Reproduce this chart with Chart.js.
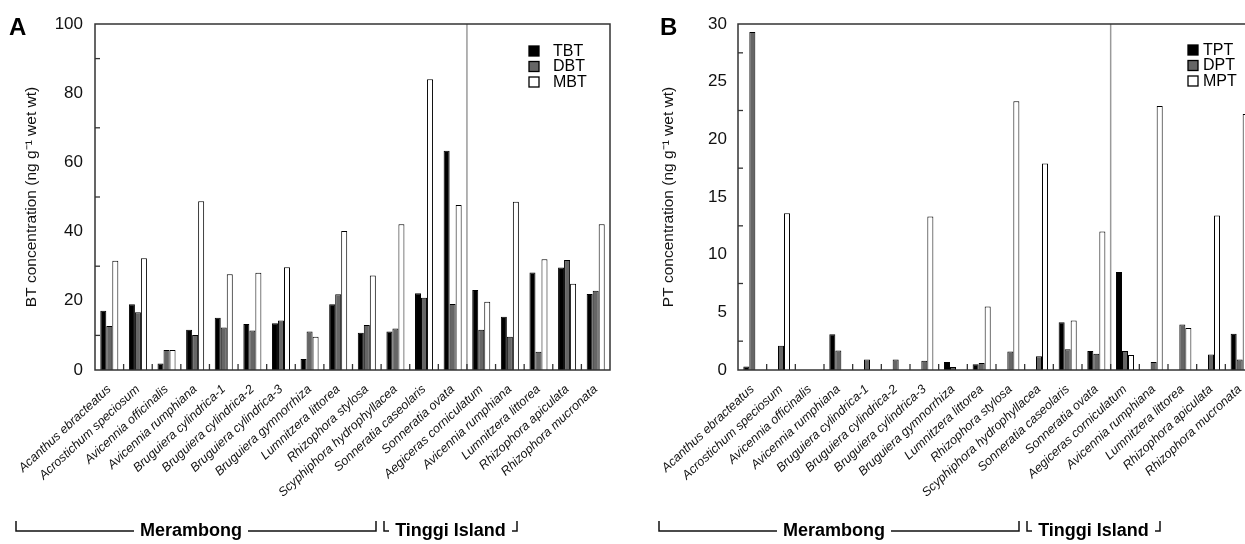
<!DOCTYPE html>
<html lang="en">
<head>
    <meta charset="UTF-8">
    <title>Butyltin and phenyltin concentrations in mangrove plants</title>
    <script src="https://cdn.jsdelivr.net/npm/chart.js"></script>
    <style>
        html, body {
            margin: 0;
            padding: 0;
            background: #fff;
            overflow: hidden;
            width: 1245px;
            height: 544px;
        }
        #chartA, #chartB {
            position: absolute;
            top: 0;
        }
        #chartA { left: 0; }
        #chartB { left: 620px; }
    </style>
</head>
<body>

    <canvas id="chartA" width="622" height="544"></canvas>
    <canvas id="chartB" width="645" height="544"></canvas>

    <script>
        const FONT = "'Liberation Sans', Arial, Helvetica, sans-serif";

        const species = [
            'Acanthus ebracteatus', 'Acrostichum speciosum', 'Avicennia officinalis',
            'Avicennia rumphiana', 'Bruguiera cylindrica-1', 'Bruguiera cylindrica-2',
            'Bruguiera cylindrica-3', 'Bruguiera gymnorrhiza', 'Lumnitzera littorea',
            'Rhizophora stylosa', 'Scyphiphora hydrophyllacea', 'Sonneratia caseolaris',
            'Sonneratia ovata', 'Aegiceras corniculatum', 'Avicennia rumphiana',
            'Lumnitzera littorea', 'Rhizophora apiculata', 'Rhizophora mucronata'
        ];
        const sites = ['Merambong', 'Tinggi Island'];
        const siteCounts = [13, 5];

        // panel A - butyltins
        const tbt = [17.1, 19.0, 1.9, 11.6, 15.1, 13.3, 13.5, 3.2, 19.0, 10.8, 11.1, 22.2, 63.4, 23.1, 15.4, 28.2, 29.6, 22.0];
        const dbt = [12.7, 16.7, 5.8, 10.1, 12.3, 11.4, 14.3, 11.1, 21.9, 13.0, 12.0, 20.9, 19.1, 11.6, 9.6, 5.3, 31.8, 22.9];
        const mbt = [31.6, 32.3, 5.8, 48.8, 27.7, 28.1, 29.7, 9.6, 40.2, 27.3, 42.1, 84.0, 47.7, 19.7, 48.6, 32.0, 24.9, 42.1];

        // panel B - phenyltins
        const tpt = [0.3, 0, 0, 3.1, 0, 0, 0, 0.7, 0.5, 0, 0, 4.15, 1.65, 8.5, 0, 0, 0, 3.15];
        const dpt = [29.3, 2.1, 0, 1.7, 0.9, 0.9, 0.8, 0.26, 0.6, 1.6, 1.2, 1.8, 1.4, 1.65, 0.7, 3.95, 1.35, 0.9];
        const mpt = [0, 13.6, 0, 0, 0, 0, 13.3, 0, 5.5, 23.3, 17.9, 4.3, 12.0, 1.3, 22.9, 3.65, 13.4, 22.2];

        const yTicksA = { max: 100, step: 20, minor: [10, 30, 50, 70, 90] };
        const yTicksB = { max: 30, step: 5, minor: [2.5, 7.5, 12.5, 17.5, 22.5, 27.5] };

        const fills = ['#000000', '#666666', '#ffffff'];

        // draws frame, minor ticks, separator, legend, panel letter and site brackets
        const decorPlugin = {
            id: 'decor',
            afterDatasetsDraw(chart) {
                const o = chart.options.plugins.decor;
                const ctx = chart.ctx;
                const area = chart.chartArea;
                const x = chart.scales.x;
                const y = chart.scales.y;
                ctx.save();

                // separator between the two sites
                const sepX = (x.getPixelForValue(siteCounts[0] - 1) + x.getPixelForValue(siteCounts[0])) / 2;
                ctx.strokeStyle = '#9a9a9a';
                ctx.lineWidth = 1.5;
                ctx.beginPath();
                ctx.moveTo(sepX, area.top);
                ctx.lineTo(sepX, area.bottom);
                ctx.stroke();

                // frame
                ctx.strokeStyle = '#333';
                ctx.lineWidth = 1.5;
                ctx.strokeRect(area.left, area.top, area.right - area.left, area.bottom - area.top);

                // inward minor ticks on y
                ctx.lineWidth = 1.3;
                o.minor.forEach(v => {
                    const py = y.getPixelForValue(v);
                    ctx.beginPath();
                    ctx.moveTo(area.left, py);
                    ctx.lineTo(area.left + 5, py);
                    ctx.stroke();
                });

                // category boundary ticks on x
                for (let i = 1; i < species.length; i++) {
                    const px = (x.getPixelForValue(i - 1) + x.getPixelForValue(i)) / 2;
                    ctx.beginPath();
                    ctx.moveTo(px, area.bottom);
                    ctx.lineTo(px, area.bottom - 6);
                    ctx.stroke();
                }

                // legend
                const lx = area.right + o.legendDx;
                ctx.font = o.legendSize + 'px ' + FONT;
                ctx.textBaseline = 'middle';
                ctx.textAlign = 'left';
                chart.data.datasets.forEach((ds, i) => {
                    const ly = o.legendY + i * 15.5;
                    ctx.fillStyle = ds.backgroundColor;
                    ctx.fillRect(lx, ly - 5, 10, 10);
                    ctx.strokeStyle = '#000';
                    ctx.lineWidth = 1.3;
                    ctx.strokeRect(lx, ly - 5, 10, 10);
                    ctx.fillStyle = '#000';
                    ctx.fillText(ds.label, lx + o.legendTextDx, ly + 0.5);
                });

                // panel letter
                ctx.font = 'bold 24px ' + FONT;
                ctx.fillStyle = '#000';
                ctx.fillText(o.letter, o.letterX, 28);

                // site brackets
                const L = area.left;
                const by = 531;
                ctx.strokeStyle = '#111';
                ctx.lineWidth = 1.5;
                ctx.font = 'bold 18px ' + FONT;
                ctx.textAlign = 'center';
                ctx.textBaseline = 'alphabetic';

                const mStart = L - 79, mEnd = L + 281, mMid = L + 96;
                const mText = ctx.measureText(sites[0]).width;
                ctx.beginPath();
                ctx.moveTo(mStart, by - 10);
                ctx.lineTo(mStart, by);
                ctx.lineTo(mMid - mText / 2 - 6, by);
                ctx.moveTo(mMid + mText / 2 + 6, by);
                ctx.lineTo(mEnd, by);
                ctx.lineTo(mEnd, by - 10);
                ctx.stroke();
                ctx.fillText(sites[0], mMid, by + 5);

                const tStart = L + 289, tEnd = L + 422;
                ctx.beginPath();
                ctx.moveTo(tStart, by - 10);
                ctx.lineTo(tStart, by);
                ctx.lineTo(tStart + 5, by);
                ctx.moveTo(tEnd - 5, by);
                ctx.lineTo(tEnd, by);
                ctx.lineTo(tEnd, by - 10);
                ctx.stroke();
                ctx.fillText(sites[1], (tStart + tEnd) / 2, by + 5);

                ctx.restore();
            }
        };

        function makeChart(id, names, series, ticks, yTitle, cfg) {
            const ctx = document.getElementById(id).getContext('2d');
            return new Chart(ctx, {
                type: 'bar',
                data: {
                    labels: species,
                    datasets: series.map((s, i) => ({
                        label: names[i],
                        data: s,
                        backgroundColor: fills[i],
                        borderColor: '#000',
                        borderWidth: 1,
                        categoryPercentage: 0.63,
                        barPercentage: 1.0
                    }))
                },
                options: {
                    responsive: false,
                    animation: false,
                    layout: { padding: { top: 24, right: cfg.padRight, left: 0, bottom: 0 } },
                    plugins: {
                        legend: { display: false },
                        tooltip: { enabled: false },
                        decor: {
                            minor: ticks.minor,
                            letter: cfg.letter,
                            letterX: cfg.letterX,
                            legendDx: cfg.legendDx,
                            legendTextDx: cfg.legendTextDx,
                            legendY: cfg.legendY,
                            legendSize: cfg.legendSize
                        }
                    },
                    scales: {
                        x: {
                            grid: { display: false },
                            border: { display: false },
                            ticks: {
                                autoSkip: false,
                                minRotation: 43,
                                maxRotation: 43,
                                padding: 4,
                                color: '#111',
                                font: { family: FONT, size: 12.5, style: 'italic' }
                            },
                            afterFit(scale) { scale.height = 174; }
                        },
                        y: {
                            min: 0,
                            max: ticks.max,
                            grid: { display: false, drawTicks: false },
                            border: { display: false },
                            ticks: {
                                stepSize: ticks.step,
                                padding: cfg.tickPad,
                                color: '#111',
                                font: { family: FONT, size: 17 }
                            },
                            title: {
                                display: true,
                                text: yTitle,
                                color: '#111',
                                padding: { top: cfg.titlePad, bottom: 0 },
                                font: { family: FONT, size: 15.5 }
                            },
                            afterFit(scale) { scale.width = cfg.axisWidth; }
                        }
                    }
                },
                plugins: [decorPlugin]
            });
        }

        makeChart('chartA', ['TBT', 'DBT', 'MBT'], [tbt, dbt, mbt], yTicksA,
            'BT concentration (ng g\u207B\u00B9 wet wt)', {
                padRight: 12, axisWidth: 95, tickPad: 12, titlePad: 22,
                letter: 'A', letterX: 9, legendDx: -81, legendTextDx: 24, legendY: 51, legendSize: 16
            });

        makeChart('chartB', ['TPT', 'DPT', 'MPT'], [tpt, dpt, mpt], yTicksB,
            'PT concentration (ng g\u207B\u00B9 wet wt)', {
                padRight: 11, axisWidth: 118, tickPad: 11, titlePad: 39,
                letter: 'B', letterX: 40, legendDx: -66, legendTextDx: 15, legendY: 50, legendSize: 16
            });
    </script>

</body>
</html>
